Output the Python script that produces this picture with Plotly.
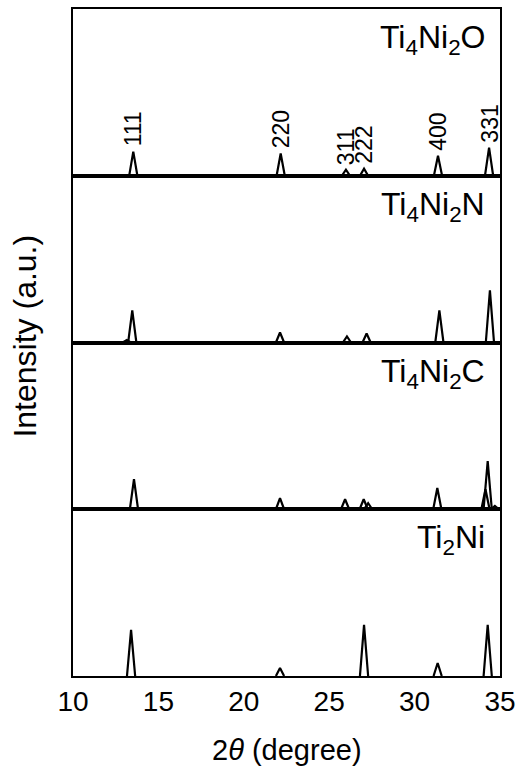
import plotly.graph_objects as go
from plotly.subplots import make_subplots

# ---- data ----
panel_names = ["Ti<sub>4</sub>Ni<sub>2</sub>O", "Ti<sub>4</sub>Ni<sub>2</sub>N",
               "Ti<sub>4</sub>Ni<sub>2</sub>C", "Ti<sub>2</sub>Ni"]

pos_O = [13.53, 22.16, 25.98, 27.04, 31.37, 34.36]
int_O = [14.5, 13.3, 3.6, 4.2, 12.0, 16.9]

pos_N = [13.15, 13.47, 22.12, 26.04, 27.19, 31.45, 34.41]
int_N = [1.5, 19.3, 6.0, 3.6, 5.4, 19.3, 31.3]

pos_C = [13.57, 22.12, 25.93, 27.02, 27.28, 31.33, 34.15, 34.28, 34.70]
int_C = [18.1, 6.6, 6.0, 6.0, 3.6, 12.7, 12.0, 28.9, 2.0]

pos_T = [13.40, 22.12, 27.04, 31.35, 34.28]
int_T = [27.7, 4.8, 30.7, 7.8, 30.7]

hkl_labels = ["111", "220", "311", "222", "400", "331"]
hkl_pos = pos_O
hkl_int = int_O

x_ticks = [10, 15, 20, 25, 30, 35]
x_range = [10, 35]
y_range = [0, 100]
half_width = 0.24

FONT = "Liberation Sans, Arial, Helvetica, sans-serif"

panels = [(pos_O, int_O), (pos_N, int_N), (pos_C, int_C), (pos_T, int_T)]

fig = make_subplots(rows=4, cols=1, shared_xaxes=True, vertical_spacing=0)

for i, (ps, hs) in enumerate(panels):
    xs, ys = [], []
    for p, h in zip(ps, hs):
        xs += [p - half_width, p, p + half_width, None]
        ys += [0, h, 0, None]
    fig.add_trace(go.Scatter(x=xs, y=ys, mode="lines",
                             line=dict(color="black", width=2.2),
                             showlegend=False, hoverinfo="skip"),
                  row=i + 1, col=1)
    # panel label
    xr = "x domain" if i == 0 else f"x{i+1} domain"
    yr = "y domain" if i == 0 else f"y{i+1} domain"
    fig.add_annotation(text=panel_names[i], xref=xr, yref=yr, x=0.97, y=1,
                       xanchor="right", yanchor="top", yshift=-8,
                       showarrow=False, font=dict(family=FONT, size=32, color="black"))

# hkl labels on the top panel
for lab, p, h in zip(hkl_labels, hkl_pos, hkl_int):
    fig.add_annotation(text=lab, x=p, y=h, xref="x", yref="y", textangle=-90,
                       xanchor="center", yanchor="bottom", yshift=3,
                       showarrow=False, font=dict(family=FONT, size=23, color="black"))

for i in range(1, 5):
    fig.update_xaxes(range=x_range, tickvals=x_ticks, ticks="", showgrid=False,
                     zeroline=False, showline=True, mirror=True, linecolor="black",
                     linewidth=1.6, automargin=False, row=i, col=1)
    fig.update_yaxes(range=y_range, showticklabels=False, ticks="", showgrid=False,
                     zeroline=False, showline=True, mirror=True, linecolor="black",
                     linewidth=1.6, automargin=False, row=i, col=1)

fig.update_xaxes(tickfont=dict(family=FONT, size=28, color="black"), row=4, col=1)

# axis titles
fig.add_annotation(text="Intensity (a.u.)", xref="paper", yref="paper",
                   x=-0.113, y=0.51, textangle=-90, xanchor="center", yanchor="middle",
                   showarrow=False, font=dict(family=FONT, size=32, color="black"))
fig.add_annotation(text="2<i>θ</i> (degree)", xref="paper", yref="paper",
                   x=0.5, y=-0.111, xanchor="center", yanchor="middle",
                   showarrow=False, font=dict(family=FONT, size=29, color="black"))

fig.update_layout(width=518, height=767, margin=dict(l=73, r=18, t=9, b=91, autoexpand=False),
                  paper_bgcolor="white", plot_bgcolor="white",
                  font=dict(family=FONT, color="black"))

fig.write_html("out.html", config={"displayModeBar": False},
               post_script="document.body.style.margin='0';")
